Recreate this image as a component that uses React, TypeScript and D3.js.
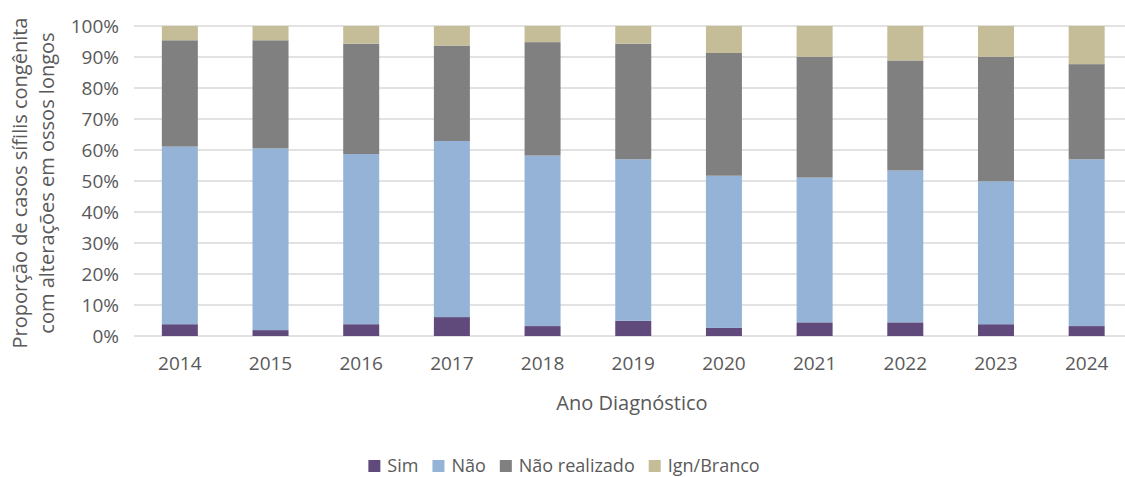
import React from "react";
import * as d3 from "d3";

const years = ["2014", "2015", "2016", "2017", "2018", "2019", "2020", "2021", "2022", "2023", "2024"];
const sim = [3.8, 1.9, 3.8, 6.1, 3.2, 4.9, 2.6, 4.4, 4.4, 3.8, 3.2];
const nao = [57.3, 58.6, 54.9, 56.8, 55.0, 52.1, 49.1, 46.7, 49.0, 46.1, 53.8];
const naoRealizado = [34.3, 34.9, 35.6, 30.8, 36.6, 37.3, 39.6, 39.0, 35.5, 40.2, 30.7];
const ignBranco = [4.6, 4.6, 5.7, 6.3, 5.2, 5.7, 8.7, 9.9, 11.1, 9.9, 12.3];
const seriesNames = ["Sim", "Não", "Não realizado", "Ign/Branco"];
const seriesColors = ["#604a7b", "#95b3d7", "#808080", "#c4bd97"];
const yTicks = [0, 10, 20, 30, 40, 50, 60, 70, 80, 90, 100];

const W = 1125;
const H = 477;
const FONT = "'Open Sans', sans-serif";
const TXT = "#595959";
const LEG_FS = 18;

function measure(text: string, size: number): number {
  try {
    const c = document.createElement("canvas");
    const ctx = c.getContext("2d");
    if (ctx) {
      ctx.font = `${size}px 'Open Sans', sans-serif`;
      return ctx.measureText(text).width;
    }
  } catch (e) {}
  return text.length * size * 0.55;
}

export default function App() {
  const x = d3.scaleBand<string>().domain(years).range([134.5, 1132]).paddingInner(0.6).paddingOuter(0.3);
  const y = d3.scaleLinear().domain([0, 100]).range([336, 26]);

  const rows = years.map((yr, i) => ({
    year: yr,
    s0: sim[i],
    s1: nao[i],
    s2: naoRealizado[i],
    s3: ignBranco[i],
  }));
  const stack = d3.stack<any>().keys(["s0", "s1", "s2", "s3"]);
  const layers = stack(rows);

  const bw = 36;

  const sq = 12;
  const gapText = 7;
  const gapItem = 14;
  const widths = seriesNames.map((n) => measure(n, LEG_FS));
  const total = widths.reduce((a, w) => a + sq + gapText + w, 0) + gapItem * (seriesNames.length - 1);
  let cur = 564 - total / 2;
  const legendX: number[] = [];
  widths.forEach((w) => {
    legendX.push(cur);
    cur += sq + gapText + w + gapItem;
  });

  return (
    <svg width={W} height={H} style={{ position: "absolute", left: 0, top: 0, background: "#fff" }}>
      <rect x={0} y={0} width={W} height={H} fill="#fff" />
      {yTicks.map((t) => (
        <line key={t} x1={134} x2={W} y1={y(t)} y2={y(t)} stroke="#d9d9d9" strokeWidth={1.5} />
      ))}
      {yTicks.map((t) => (
        <text key={"l" + t} x={119} y={y(t) + 6.5} textAnchor="end" fontFamily={FONT} fontSize={19} fill={TXT}>
          {t + "%"}
        </text>
      ))}
      {layers.map((layer, li) => (
        <g key={li} fill={seriesColors[li]}>
          {layer.map((d, i) => {
            const cx = (x(years[i]) as number) + x.bandwidth() / 2;
            return (
              <rect key={i} x={cx - bw / 2} y={y(d[1])} width={bw} height={y(d[0]) - y(d[1])} />
            );
          })}
        </g>
      ))}
      {years.map((yr) => (
        <text
          key={"x" + yr}
          x={(x(yr) as number) + x.bandwidth() / 2}
          y={370}
          textAnchor="middle"
          fontFamily={FONT}
          fontSize={19}
          fill={TXT}
        >
          {yr}
        </text>
      ))}
      <text x={632} y={410} textAnchor="middle" fontFamily={FONT} fontSize={20} fill={TXT}>
        Ano Diagnóstico
      </text>
      <g transform="translate(27,183) rotate(-90)">
        <text x={0} y={0} textAnchor="middle" fontFamily={FONT} fontSize={20} fill={TXT}>
          Proporção de casos sífilis congênita
        </text>
      </g>
      <g transform="translate(54,183) rotate(-90)">
        <text x={0} y={0} textAnchor="middle" fontFamily={FONT} fontSize={20} fill={TXT}>
          com alterações em ossos longos
        </text>
      </g>
      {seriesNames.map((name, i) => (
        <g key={"lg" + i}>
          <rect x={legendX[i]} y={460} width={sq} height={sq} fill={seriesColors[i]} />
          <text x={legendX[i] + sq + gapText} y={472} fontFamily={FONT} fontSize={LEG_FS} fill={TXT}>
            {name}
          </text>
        </g>
      ))}
    </svg>
  );
}
